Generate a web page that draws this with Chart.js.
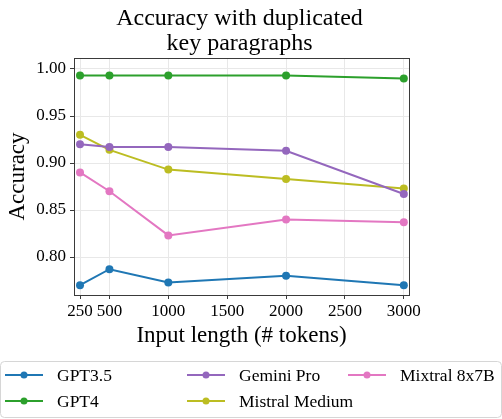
<!DOCTYPE html>
<html>
<head>
<meta charset="utf-8">
<script src="https://cdn.jsdelivr.net/npm/chart.js@4.4.0/dist/chart.umd.min.js"></script>
<style>
  html, body { margin: 0; padding: 0; background: #fff; }
  #wrap { width: 502px; height: 419px; }
</style>
</head>
<body>
<div id="wrap"><canvas id="myChart" width="502" height="419"></canvas></div>
<script>
// datos
var longitudes = [250, 500, 1000, 2000, 3000];
var xTicks = [250, 500, 1000, 1500, 2000, 2500, 3000];
var yTicks = [0.80, 0.85, 0.90, 0.95, 1.00];

var titulo = ['Accuracy with duplicated', 'key paragraphs'];
var modelos = ['GPT3.5', 'GPT4', 'Gemini Pro', 'Mistral Medium', 'Mixtral 8x7B'];
var gpt35 = [0.770, 0.787, 0.773, 0.780, 0.770];
var gpt4 = [0.993, 0.993, 0.993, 0.993, 0.990];
var gemini = [0.920, 0.917, 0.917, 0.913, 0.867];
var mistralMedium = [0.930, 0.914, 0.893, 0.883, 0.873];
var mixtral = [0.890, 0.870, 0.823, 0.840, 0.837];
var colores = ['#1f77b4', '#2ca02c', '#9467bd', '#bcbd22', '#e377c2'];

var series = [gpt35, gpt4, gemini, mistralMedium, mixtral];
var fuente = "'Liberation Serif', 'DejaVu Serif', serif";

function armarDatasets(){
    var ds = [];
    for (var i = 0; i < modelos.length; i++) {
        var puntos = [];
        for (var j = 0; j < longitudes.length; j++) {
            puntos.push({x: longitudes[j], y: series[i][j]});
        }
        ds.push({
            label: modelos[i],
            data: puntos,
            borderColor: colores[i],
            backgroundColor: colores[i],
            borderWidth: 2,
            pointRadius: 4,
            pointHoverRadius: 4,
            pointBorderWidth: 0,
            tension: 0
        });
    }
    return ds;
}

// titulo centrado sobre el area, marco de ejes y leyenda en columnas
var marcoYLeyenda = {
    id: 'marcoYLeyenda',
    afterDraw: function(chart){
        var ctx = chart.ctx;
        var a = chart.chartArea;
        ctx.save();
        ctx.strokeStyle = '#3a3a3a';
        ctx.lineWidth = 1;
        ctx.strokeRect(Math.round(a.left) + 0.5, Math.round(a.top) + 0.5,
            Math.round(a.right - a.left), Math.round(a.bottom - a.top));

        ctx.fillStyle = '#000';
        ctx.font = '24px ' + fuente;
        ctx.textAlign = 'center';
        ctx.textBaseline = 'alphabetic';
        var centro = (a.left + a.right) / 2 - 2;
        titulo.forEach(function(t, i){
            ctx.fillText(t, centro, 25 + i * 25);
        });

        // caja de leyenda
        var lx = 0.5, ly = 361.5, lw = 501, lh = 56, r = 4;
        ctx.beginPath();
        ctx.moveTo(lx + r, ly);
        ctx.lineTo(lx + lw - r, ly);
        ctx.quadraticCurveTo(lx + lw, ly, lx + lw, ly + r);
        ctx.lineTo(lx + lw, ly + lh - r);
        ctx.quadraticCurveTo(lx + lw, ly + lh, lx + lw - r, ly + lh);
        ctx.lineTo(lx + r, ly + lh);
        ctx.quadraticCurveTo(lx, ly + lh, lx, ly + lh - r);
        ctx.lineTo(lx, ly + r);
        ctx.quadraticCurveTo(lx, ly, lx + r, ly);
        ctx.closePath();
        ctx.fillStyle = 'rgba(255,255,255,0.8)';
        ctx.fill();
        ctx.strokeStyle = '#d6d6d6';
        ctx.stroke();

        var colX = [5, 187, 348];
        var filaY = [375, 401];
        ctx.font = '17.5px ' + fuente;
        ctx.textBaseline = 'middle';
        ctx.textAlign = 'left';
        chart.data.datasets.forEach(function(d, i){
            var cx = colX[Math.floor(i / 2)];
            var cy = filaY[i % 2];
            ctx.strokeStyle = d.borderColor;
            ctx.lineWidth = 2;
            ctx.beginPath();
            ctx.moveTo(cx, cy);
            ctx.lineTo(cx + 38, cy);
            ctx.stroke();
            ctx.fillStyle = d.borderColor;
            ctx.beginPath();
            ctx.arc(cx + 19, cy, 3.5, 0, Math.PI * 2);
            ctx.fill();
            ctx.fillStyle = '#000';
            ctx.fillText(d.label, cx + 52, cy + 1);
        });
        ctx.restore();
    }
};

var ctx = document.getElementById('myChart');
var chart = new Chart(ctx, {
    type: 'line',
    data: { datasets: armarDatasets() },
    plugins: [marcoYLeyenda],
    options: {
        responsive: false,
        animation: false,
        layout: { padding: { left: 0, right: 93, top: 58, bottom: 69 } },
        plugins: {
            legend: { display: false },
            tooltip: { enabled: false },
            title: { display: false }
        },
        scales: {
            x: {
                type: 'linear',
                min: 199,
                max: 3044,
                afterBuildTicks: function(s){ s.ticks = xTicks.map(function(v){ return {value: v}; }); },
                afterFit: function(s){ s.height = 55; },
                ticks: {
                    autoSkip: false,
                    maxRotation: 0,
                    color: '#000',
                    padding: 2,
                    font: { family: fuente, size: 17 },
                    callback: function(v){ return String(v); }
                },
                grid: { color: '#e8e8e8', tickColor: '#3a3a3a', tickLength: 4 },
                border: { color: '#3a3a3a' },
                title: {
                    display: true,
                    text: 'Input length (# tokens)',
                    color: '#000',
                    font: { family: fuente, size: 23 },
                    padding: { top: 0, bottom: 0 }
                }
            },
            y: {
                min: 0.7596,
                max: 1.0117,
                afterBuildTicks: function(s){ s.ticks = yTicks.map(function(v){ return {value: v}; }); },
                afterFit: function(s){ s.width = 74; },
                ticks: {
                    color: '#000',
                    padding: 4,
                    font: { family: fuente, size: 17 },
                    callback: function(v){ return v.toFixed(2); }
                },
                grid: { color: '#e8e8e8', tickColor: '#3a3a3a', tickLength: 4 },
                border: { color: '#3a3a3a' },
                title: {
                    display: true,
                    text: 'Accuracy',
                    color: '#000',
                    font: { family: fuente, size: 23 },
                    padding: { top: 4, bottom: 0 }
                }
            }
        }
    }
});
</script>
</body>
</html>
